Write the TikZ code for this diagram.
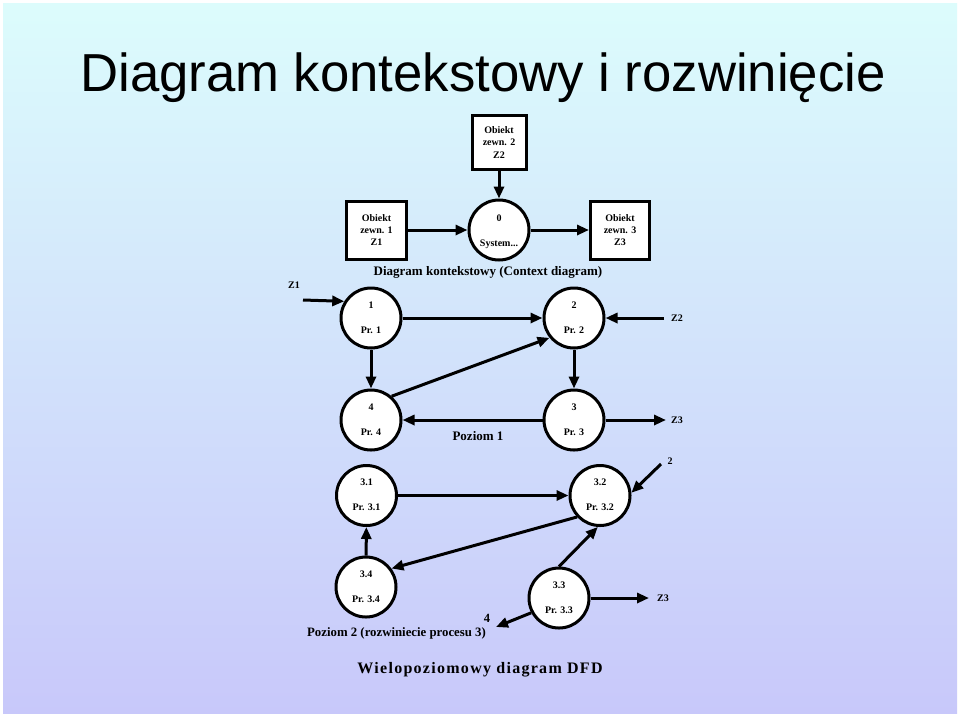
\documentclass[tikz,border=0pt]{standalone}
\usepackage{fontspec}
\setmainfont{Liberation Serif}
\newfontfamily\titlefont{Liberation Sans}
\newfontfamily\widefont[LetterSpace=8]{Liberation Serif}
\usetikzlibrary{arrows.meta,calc}
\definecolor{bgtop}{RGB}{220,252,252}
\definecolor{bgbot}{RGB}{200,200,250}
\tikzset{
  proc/.style={circle,draw=black,fill=white,line width=3pt,minimum size=60pt,inner sep=0pt},
  ext/.style={rectangle,draw=black,fill=white,line width=3pt,inner sep=0pt},
  ptxt/.style={font=\fontsize{10}{12}\selectfont\bfseries,inner sep=0pt},
  lbl/.style={font=\fontsize{10}{12}\selectfont\bfseries,inner sep=0pt},
  flow/.style={line width=3pt,-{Triangle[length=12pt,width=10pt]}},
}
\newcommand\mkproc[5]{%
  \node[proc] (#1) at (#2) {};
  \node[ptxt] (#1n) at ($(#1)+(0,#5)$) {#3};
  \node[ptxt] (#1l) at ($(#1)+(0,12)$) {#4};
}
\begin{document}
\begin{tikzpicture}[x=1pt,y=-1pt]
\useasboundingbox (0,0) rectangle (960,716);
\fill[white] (0,0) rectangle (960,716);
\shade[top color=bgtop,bottom color=bgbot] (3,3) rectangle (957,713);

\node[font=\titlefont\fontsize{53.5}{60}\selectfont,anchor=base,inner sep=0pt,xscale=0.985] (title) at (483,91.7) {Diagram kontekstowy i rozwinięcie};

% context diagram
\node[ext,minimum width=54pt,minimum height=54pt,align=center,font=\fontsize{10}{12.3}\selectfont\bfseries] (z2) at (499,142.5) {Obiekt\\zewn. 2\\Z2};
\node[ext,minimum width=60pt,minimum height=58pt,align=center,font=\fontsize{10}{12.3}\selectfont\bfseries] (z1) at (376.5,230) {Obiekt\\zewn. 1\\Z1};
\node[ext,minimum width=59pt,minimum height=58pt,align=center,font=\fontsize{10}{12.3}\selectfont\bfseries] (z3) at (620,230) {Obiekt\\zewn. 3\\Z3};
\node[proc] (p0) at (499,230) {};
\node[ptxt] (p0n) at (499,218) {0};
\node[ptxt] (p0l) at (499,244) {System...};
\draw[flow] (z2) -- (p0);
\draw[flow] (z1) -- (p0);
\draw[flow] (p0) -- (z3);
\node[font=\fontsize{13}{15}\selectfont\bfseries,inner sep=0pt] (ctx) at (488,272) {Diagram kontekstowy (Context diagram)};

% level 1
\mkproc{p1}{371,318}{1}{Pr. 1}{-13}
\mkproc{p2}{574,318}{2}{Pr. 2}{-13}
\mkproc{p4}{371,420}{4}{Pr. 4}{-13}
\mkproc{p3}{574,420}{3}{Pr. 3}{-13}
\node[lbl] (lz1) at (294,285) {Z1};
\coordinate (z1s) at (303,300);
\draw[flow] (z1s) -- (p1.148);
\draw[flow] (p1) -- (p2);
\node[lbl] (lz2) at (677,318) {Z2};
\coordinate (z2s) at (664,318);
\draw[flow] (z2s) -- (p2);
\draw[flow] (p1) -- (p4);
\draw[flow] (p2) -- (p3);
\draw[flow] (p4.49) -- (p2.219);
\draw[flow] (p3) -- (p4);
\coordinate (z3e) at (666,420);
\draw[flow] (p3) -- (z3e);
\node[lbl] (lz3) at (677,420) {Z3};
\node[font=\fontsize{13}{15}\selectfont\bfseries,inner sep=0pt] (poz1) at (478,436) {Poziom 1};

% level 2
\mkproc{p31}{366.5,495.5}{3.1}{Pr. 3.1}{-13}
\mkproc{p32}{600,495.5}{3.2}{Pr. 3.2}{-13}
\mkproc{p34}{366,587}{3.4}{Pr. 3.4}{-13}
\mkproc{p33}{559,598}{3.3}{Pr. 3.3}{-13}
\draw[flow] (p31) -- (p32);
\node[lbl] (l2) at (670,461) {2};
\coordinate (in2) at (661,464);
\draw[flow] (in2) -- (p32.5);
\draw[flow] (p34) -- (p31);
\draw[flow] (p32.223) -- (p34.36);
\draw[flow] (p33.90) -- (p32.266);
\coordinate (z3e2) at (649,598);
\draw[flow] (p33) -- (z3e2);
\node[lbl] (lz32) at (663,598) {Z3};
\coordinate (o4) at (496,627);
\draw[flow] (p33.208) -- (o4);
\node[font=\fontsize{12.5}{14}\selectfont\bfseries,inner sep=0pt] (l4) at (487,618) {4};
\node[font=\fontsize{12.8}{14}\selectfont\bfseries,inner sep=0pt] (poz2) at (396.5,633) {Poziom 2 (rozwiniecie procesu 3)};

\node[font=\widefont\fontsize{16}{18}\selectfont\bfseries,inner sep=0pt] (dfd) at (480,670) {Wielopoziomowy diagram DFD};
\end{tikzpicture}
\end{document}
